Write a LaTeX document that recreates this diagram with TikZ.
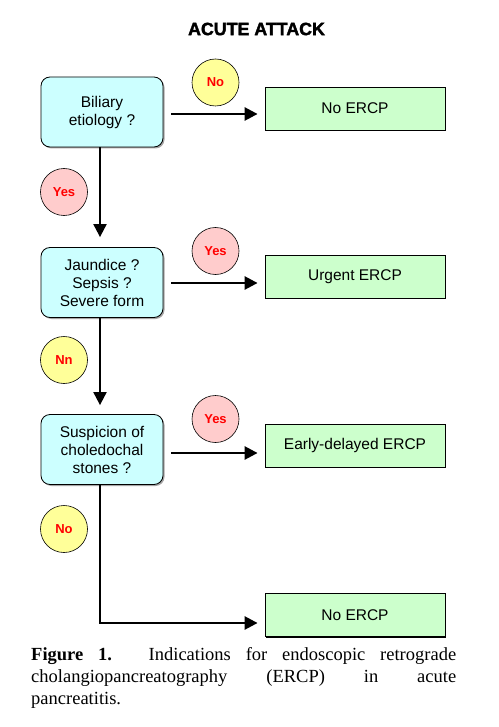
\documentclass[tikz,border=0pt]{standalone}
\usepackage{fontspec}
\setmainfont{Liberation Sans}
\newfontfamily\serifcap{Liberation Serif}
\newfontfamily\heavy[FakeBold=2]{Liberation Sans}
\usetikzlibrary{arrows.meta,shadows}
\definecolor{qblue}{HTML}{CCFFFF}
\definecolor{qgreen}{HTML}{CCFFCC}
\definecolor{qyellow}{HTML}{FFFF99}
\definecolor{qpink}{HTML}{FFCCCC}
\definecolor{qred}{HTML}{FF0000}
\tikzset{
  question/.style={draw=black, line width=0.8pt, fill=qblue, rounded corners=9pt,
    minimum width=122pt, minimum height=70pt, align=center, inner sep=2pt,
    font=\fontsize{15.5}{18}\selectfont,
    drop shadow={shadow xshift=1.5pt, shadow yshift=-1.5pt, fill=gray!70, opacity=1}},
  outcome/.style={draw=black, line width=0.8pt, fill=qgreen,
    minimum width=180pt, minimum height=43pt, align=center,
    font=\fontsize{15.5}{18}\selectfont,
    drop shadow={shadow xshift=1.2pt, shadow yshift=-1.2pt, fill=black, opacity=1}},
  yesball/.style={circle, draw=black, line width=0.6pt, fill=qpink, minimum size=47pt,
    inner sep=0pt, text=qred, font=\bfseries\fontsize{13}{15}\selectfont},
  noball/.style={yesball, fill=qyellow},
  harrow/.style={line width=2.6pt, -{Triangle[length=13pt,width=13pt]}},
  varrow/.style={line width=2pt, -{Triangle[length=13pt,width=13pt]}},
  vline/.style={line width=2pt}
}
\begin{document}
\begin{tikzpicture}[x=1pt,y=-1pt]
\useasboundingbox[fill=white] (0,0) rectangle (498,727);
\node[font=\heavy\bfseries\fontsize{17.8}{20}\selectfont] (title) at (256.5,29) {ACUTE ATTACK};

\node[question] (b1) at (102,112) {Biliary\\etiology ?};
\node[question] (b2) at (102,282.5) {Jaundice ?\\Sepsis ?\\Severe form};
\node[question] (b3) at (102,449.5) {Suspicion of\\choledochal\\stones ?};

\node[outcome] (g1) at (355,108.5) {No ERCP};
\node[outcome] (g2) at (355,276.5) {Urgent ERCP};
\node[outcome] (g3) at (355,445.5) {Early-delayed ERCP};
\node[outcome] (g4) at (355,615) {No ERCP};

\node[noball] (c1) at (215.5,82.5) {No};
\node[yesball] (c2) at (64,192) {Yes};
\node[yesball] (c3) at (215.5,251) {Yes};
\node[noball] (c4) at (64,360) {Nn};
\node[yesball] (c5) at (215.5,419) {Yes};
\node[noball] (c6) at (64,529) {No};

\coordinate (vx) at (100,0);
\coordinate (y1) at (0,114);
\coordinate (y2) at (0,283);
\coordinate (y3) at (0,453);
\coordinate (y4) at (0,623);

\draw[harrow, shorten <=8pt, shorten >=7pt] (b1.east |- y1) -- (g1.west |- y1);
\draw[harrow, shorten <=8pt, shorten >=7pt] (b2.east |- y2) -- (g2.west |- y2);
\draw[harrow, shorten <=8pt, shorten >=7pt] (b3.east |- y3) -- (g3.west |- y3);
\draw[varrow, shorten >=10pt] (b1.south -| vx) -- (b2.north -| vx);
\draw[varrow, shorten >=9pt] (b2.south -| vx) -- (b3.north -| vx);
\draw[harrow, shorten >=7pt] (b3.south -| vx) |- (g4.west |- y4);

\node[anchor=north west, inner sep=0pt, text width=425pt, align=justify,
  font=\serifcap\fontsize{18.5}{22}\selectfont] (cap) at (31,647.5)
  {\hyphenpenalty=10000\textbf{Figure 1.} Indications for endoscopic retrograde\linebreak
   cholangiopancreatography (ERCP) in acute\linebreak pancreatitis.};
\end{tikzpicture}
\end{document}
